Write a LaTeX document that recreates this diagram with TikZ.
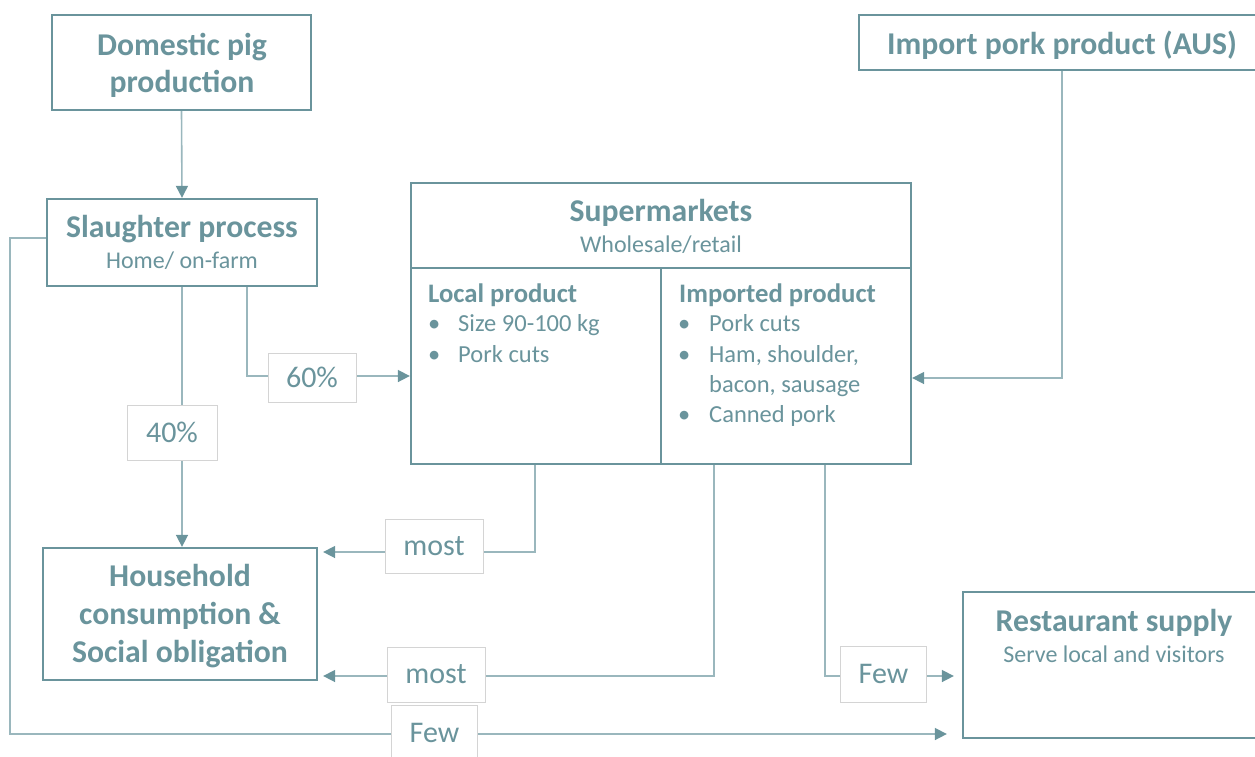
\documentclass[tikz,border=0pt]{standalone}
\usepackage{fontspec}
\setmainfont{Carlito}
\usetikzlibrary{arrows.meta}
\definecolor{mainc}{HTML}{6A949C}
\definecolor{linec}{HTML}{9AB7BD}
\definecolor{lblc}{HTML}{D4D4D4}
\begin{document}
\begin{tikzpicture}[x=1pt,y=-1pt,
  box/.style={draw=mainc, line width=2.3pt, rectangle, inner sep=0pt, fill=white},
  lbl/.style={draw=lblc, line width=1pt, fill=white, text=mainc, font=\fontsize{30}{36}\selectfont, inner sep=0pt},
  conn/.style={draw=linec, line width=1.6pt},
  arr/.style={conn, -{Triangle[length=12pt,width=12pt,fill=mainc,color=mainc]}},
  hd/.style={text=mainc, inner sep=0pt, anchor=base, font=\bfseries\fontsize{31.7}{37}\selectfont},
  sub/.style={text=mainc, inner sep=0pt, anchor=base, font=\fontsize{24}{29}\selectfont},
  lhd/.style={text=mainc, inner sep=0pt, anchor=base west, font=\bfseries\fontsize{26.7}{32}\selectfont},
  itm/.style={text=mainc, inner sep=0pt, anchor=base west, font=\fontsize{24.5}{30}\selectfont}
]
\useasboundingbox (0,0) rectangle (1255,756);
\clip (0,0) rectangle (1255,756);

% boxes
\node[box, minimum width=259pt, minimum height=95pt] (dom) at (181.5,62.5) {};
\node[box, minimum width=270pt, minimum height=87pt] (sl) at (182,242.5) {};
\node[box, minimum width=406pt, minimum height=55pt] (imp) at (1062,42.5) {};
\node[box, minimum width=500pt, minimum height=281pt] (sup) at (661,323.5) {};
\node[box, minimum width=274pt, minimum height=132pt] (hh) at (180,614) {};
\node[box, minimum width=302pt, minimum height=146pt] (rest) at (1114,665) {};

% supermarket dividers
\coordinate (divl) at (411,268);
\coordinate (divr) at (911,268);
\coordinate (divb) at (661,464);
\draw[mainc, line width=2.3pt] (divl) -- (divr);
\draw[mainc, line width=2.3pt] (divb |- divl) -- (divb);

% texts
\node[hd] (t1) at (182,55) {Domestic pig};
\node[hd] (t2) at (182,92) {production};
\node[hd] (t3) at (182,237) {Slaughter process};
\node[sub] (t4) at (182,268) {Home/ on-farm};
\node[hd] (t5) at (1062,54) {Import pork product (AUS)};
\node[hd] (t6) at (661,221) {Supermarkets};
\node[sub] (t7) at (661,252) {Wholesale/retail};
\node[hd] (t8) at (180,586) {Household};
\node[hd] (t9) at (180,624) {consumption \&};
\node[hd] (t10) at (180,662) {Social obligation};
\node[hd] (t11) at (1114,631) {Restaurant supply};
\node[sub] (t12) at (1114,662) {Serve local and visitors};

\node[lhd] (lp) at (428,302) {Local product};
\node[itm] (lb1) at (428,331) {•};
\node[itm] (li1) at (458,331) {Size 90-100 kg};
\node[itm] (lb2) at (428,362) {•};
\node[itm] (li2) at (458,362) {Pork cuts};

\node[lhd] (ip) at (679,302) {Imported product};
\node[itm] (ib1) at (678,331) {•};
\node[itm] (ii1) at (709,331) {Pork cuts};
\node[itm] (ib2) at (678,362) {•};
\node[itm] (ii2) at (709,362) {Ham, shoulder,};
\node[itm] (ii3) at (709,392) {bacon, sausage};
\node[itm] (ib3) at (678,422) {•};
\node[itm] (ii4) at (709,422) {Canned pork};

% connectors
\draw[arr] (dom.south) -- (sl.north);
\draw[arr] ([xshift=65pt]sl.south) |- ([yshift=-52.5pt]sup.west);
\draw[arr] (sl.south) -- (sl.south |- hh.north);
\draw[arr] (imp.south) |- ([yshift=-54.5pt]sup.east);
\draw[arr] ([xshift=-126pt]sup.south) |- ([xshift=5pt,yshift=62pt]hh.east);
\draw[arr] ([xshift=53pt]sup.south) |- ([xshift=5pt,yshift=-62pt]hh.east);
\draw[arr] ([xshift=164pt]sup.south) |- ([xshift=-8pt,yshift=-11pt]rest.west);
\draw[arr] ([yshift=4.5pt]sl.west) -- ++(-36,0) |- ([xshift=-15pt,yshift=-69pt]rest.west);

% labels
\node[lbl, minimum width=88pt, minimum height=49pt] (l60) at (312,377.5) {60\%};
\node[lbl, minimum width=90pt, minimum height=55pt] (l40) at (172,432.5) {40\%};
\node[lbl, minimum width=98pt, minimum height=54pt] (lm1) at (434,546) {most};
\node[lbl, minimum width=98pt, minimum height=55pt] (lm2) at (436,674.5) {most};
\node[lbl, minimum width=86pt, minimum height=56pt] (lf1) at (883.5,674) {Few};
\node[lbl, minimum width=86pt, minimum height=56pt] (lf2) at (434.5,733) {Few};
\end{tikzpicture}
\end{document}
